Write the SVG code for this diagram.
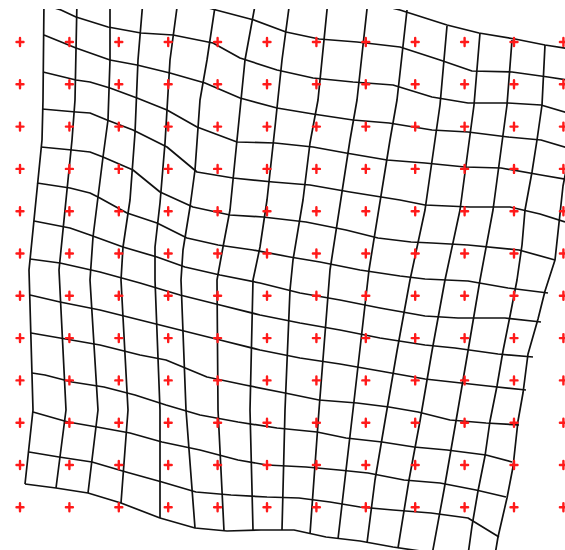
<svg xmlns="http://www.w3.org/2000/svg" xmlns:xlink="http://www.w3.org/1999/xlink" width="565" height="550" viewBox="0 0 565 550">
<style>
.g{fill:none;stroke:#111;stroke-width:1.7;stroke-linejoin:round}
.m{fill:none;stroke:#ff1a1a;stroke-width:2.4;stroke-linecap:round}
</style>
<defs>
<clipPath id="clip"><rect x="0" y="9" width="565" height="541"/></clipPath>
<path id="mk" d="M-3.5,0H3.5M0,-4V4"/>
</defs>
<rect width="565" height="550" fill="#fff"/>
<g id="connectors" clip-path="url(#clip)">
<g id="rows">
<polyline class="g" points="360,0 400,10 447,25 479,33 515,39 545,45 590,52"/>
<polyline class="g" points="180,0 216,10 254,20 286,32 319,39 357,42 400,47 440,60 472,71 512,72 548,77 580,82"/>
<polyline class="g" points="30,0 61,10 76,17 108,27 141,33 173,35 213,43 240,58 277,70 313,78 353,82 393,85 432,97 468,103 508,103 541,105 575,115"/>
<polyline class="g" points="44,35 76,48 110,60 137,65 170,73 205,83 240,98 277,108 313,114 353,120 389,123 432,130 468,132 508,137 541,140 575,150"/>
<polyline class="g" points="43,72 76,80 90,82 110,88 137,98 167,110 197,127 237,142 275,143 313,147 346,153 387,160 425,163 465,167 501,168 541,175 570,180"/>
<polyline class="g" points="42,109 76,112 90,113 107,120 133,130 167,147 197,172 233,178 273,182 310,185 350,192 400,200 425,205 470,207 510,207 540,214 565,222"/>
<polyline class="g" points="41,147 72,150 90,152 103,157 133,170 160,192 193,207 230,215 263,217 306,222 346,230 378,238 411,242 432,243 468,245 519,250 555,260"/>
<polyline class="g" points="37,183 70,188 90,193 98,197 127,213 157,223 187,238 218,245 253,250 290,257 320,262 360,270 400,276 425,279 468,281 508,288 548,293"/>
<polyline class="g" points="34,221 70,228 90,235 123,247 157,257 185,267 220,275 260,283 300,293 340,300 380,308 425,316 458,318 505,318 541,322"/>
<polyline class="g" points="30,259 60,263 100,272 140,283 180,295 220,305 260,315 300,323 340,330 380,338 425,345 455,348 498,354 533,357"/>
<polyline class="g" points="30,295 60,302 100,310 140,320 180,330 220,340 260,350 300,358 340,364 380,371 425,379 488,386 526,390"/>
<polyline class="g" points="31,333 60,338 100,345 140,355 166,360 207,377 245,385 285,393 319,400 357,403 389,407 418,412 450,420 486,423 519,425"/>
<polyline class="g" points="32,373 45,375 72,382 104,387 135,395 166,405 200,415 238,422 277,428 317,432 346,438 382,442 414,447 447,450 486,455 512,462"/>
<polyline class="g" points="33,412 68,422 97,427 130,433 162,442 200,450 238,460 267,465 306,467 339,470 368,473 404,480 440,483 476,490 506,497"/>
<polyline class="g" points="29,452 59,457 92,462 126,472 162,482 196,492 231,495 267,497 299,498 330,502 360,507 393,510 431,513 468,518 499,537"/>
<polyline class="g" points="25,484 56,488 88,493 121,503 160,518 195,528 227,531 261,530 294,530 326,537 360,541 393,547 427,552"/>
</g>
<g id="cols">
<polyline class="g" points="44,0 43,100 42,140 29,270 33,410 25,484"/>
<polyline class="g" points="77,0 75,100 72,140 59,270 66,410 56,488"/>
<polyline class="g" points="110,0 110,60 108,120 103,157 98,197 93,237 90,280 98,410 88,493"/>
<polyline class="g" points="143,0 138,60 135,133 130,200 123,247 121,280 128,410 121,503"/>
<polyline class="g" points="178,0 170,60 165,143 160,203 155,247 155,280 160,410 160,518"/>
<polyline class="g" points="216,0 207,60 200,100 195,170 190,207 183,250 181,280 186,410 195,528"/>
<polyline class="g" points="256,0 245,60 237,140 230,210 223,247 217,280 218,410 224,531"/>
<polyline class="g" points="290,0 282,60 275,127 267,200 260,247 253,280 250,410 253,530"/>
<polyline class="g" points="328,0 318,100 310,143 303,200 293,260 290,290 285,410 282,530"/>
<polyline class="g" points="368,0 357,100 350,140 330,270 319,410 310,534"/>
<polyline class="g" points="407,10 397,100 390,140 369,270 353,410 338,539"/>
<polyline class="g" points="447,26 440,105 425,210 410,280 397,351 385,421 375,480 367,543"/>
<polyline class="g" points="480,33 474,105 460,210 445,280 432,351 420,421 409,480 398,548"/>
<polyline class="g" points="512,40 507,105 493,210 480,280 468,351 456,421 444,490 432,555"/>
<polyline class="g" points="545,45 542,105 537,140 532,172 525,210 522,245 517,280 510,316 503,351 497,386 490,421 485,456 478,491 472,526 468,555"/>
<polyline class="g" points="590,52 572,140 563,186 555,260 545,291 538,319 528,354 523,393 518,421 513,467 507,498 498,537 495,555"/>
</g>
</g>
<g id="markers" class="m">
<use href="#mk" x="20" y="42"/><use href="#mk" x="69.4" y="42"/><use href="#mk" x="118.8" y="42"/><use href="#mk" x="168.2" y="42"/><use href="#mk" x="217.6" y="42"/><use href="#mk" x="267" y="42"/><use href="#mk" x="316.4" y="42"/><use href="#mk" x="365.8" y="42"/><use href="#mk" x="415.2" y="42"/><use href="#mk" x="464.6" y="42"/><use href="#mk" x="514" y="42"/><use href="#mk" x="563.4" y="42"/>
<use href="#mk" x="20" y="84.3"/><use href="#mk" x="69.4" y="84.3"/><use href="#mk" x="118.8" y="84.3"/><use href="#mk" x="168.2" y="84.3"/><use href="#mk" x="217.6" y="84.3"/><use href="#mk" x="267" y="84.3"/><use href="#mk" x="316.4" y="84.3"/><use href="#mk" x="365.8" y="84.3"/><use href="#mk" x="415.2" y="84.3"/><use href="#mk" x="464.6" y="84.3"/><use href="#mk" x="514" y="84.3"/><use href="#mk" x="563.4" y="84.3"/>
<use href="#mk" x="20" y="126.6"/><use href="#mk" x="69.4" y="126.6"/><use href="#mk" x="118.8" y="126.6"/><use href="#mk" x="168.2" y="126.6"/><use href="#mk" x="217.6" y="126.6"/><use href="#mk" x="267" y="126.6"/><use href="#mk" x="316.4" y="126.6"/><use href="#mk" x="365.8" y="126.6"/><use href="#mk" x="415.2" y="126.6"/><use href="#mk" x="464.6" y="126.6"/><use href="#mk" x="514" y="126.6"/><use href="#mk" x="563.4" y="126.6"/>
<use href="#mk" x="20" y="168.9"/><use href="#mk" x="69.4" y="168.9"/><use href="#mk" x="118.8" y="168.9"/><use href="#mk" x="168.2" y="168.9"/><use href="#mk" x="217.6" y="168.9"/><use href="#mk" x="267" y="168.9"/><use href="#mk" x="316.4" y="168.9"/><use href="#mk" x="365.8" y="168.9"/><use href="#mk" x="415.2" y="168.9"/><use href="#mk" x="464.6" y="168.9"/><use href="#mk" x="514" y="168.9"/><use href="#mk" x="563.4" y="168.9"/>
<use href="#mk" x="20" y="211.2"/><use href="#mk" x="69.4" y="211.2"/><use href="#mk" x="118.8" y="211.2"/><use href="#mk" x="168.2" y="211.2"/><use href="#mk" x="217.6" y="211.2"/><use href="#mk" x="267" y="211.2"/><use href="#mk" x="316.4" y="211.2"/><use href="#mk" x="365.8" y="211.2"/><use href="#mk" x="415.2" y="211.2"/><use href="#mk" x="464.6" y="211.2"/><use href="#mk" x="514" y="211.2"/><use href="#mk" x="563.4" y="211.2"/>
<use href="#mk" x="20" y="253.5"/><use href="#mk" x="69.4" y="253.5"/><use href="#mk" x="118.8" y="253.5"/><use href="#mk" x="168.2" y="253.5"/><use href="#mk" x="217.6" y="253.5"/><use href="#mk" x="267" y="253.5"/><use href="#mk" x="316.4" y="253.5"/><use href="#mk" x="365.8" y="253.5"/><use href="#mk" x="415.2" y="253.5"/><use href="#mk" x="464.6" y="253.5"/><use href="#mk" x="514" y="253.5"/><use href="#mk" x="563.4" y="253.5"/>
<use href="#mk" x="20" y="295.8"/><use href="#mk" x="69.4" y="295.8"/><use href="#mk" x="118.8" y="295.8"/><use href="#mk" x="168.2" y="295.8"/><use href="#mk" x="217.6" y="295.8"/><use href="#mk" x="267" y="295.8"/><use href="#mk" x="316.4" y="295.8"/><use href="#mk" x="365.8" y="295.8"/><use href="#mk" x="415.2" y="295.8"/><use href="#mk" x="464.6" y="295.8"/><use href="#mk" x="514" y="295.8"/><use href="#mk" x="563.4" y="295.8"/>
<use href="#mk" x="20" y="338.1"/><use href="#mk" x="69.4" y="338.1"/><use href="#mk" x="118.8" y="338.1"/><use href="#mk" x="168.2" y="338.1"/><use href="#mk" x="217.6" y="338.1"/><use href="#mk" x="267" y="338.1"/><use href="#mk" x="316.4" y="338.1"/><use href="#mk" x="365.8" y="338.1"/><use href="#mk" x="415.2" y="338.1"/><use href="#mk" x="464.6" y="338.1"/><use href="#mk" x="514" y="338.1"/><use href="#mk" x="563.4" y="338.1"/>
<use href="#mk" x="20" y="380.4"/><use href="#mk" x="69.4" y="380.4"/><use href="#mk" x="118.8" y="380.4"/><use href="#mk" x="168.2" y="380.4"/><use href="#mk" x="217.6" y="380.4"/><use href="#mk" x="267" y="380.4"/><use href="#mk" x="316.4" y="380.4"/><use href="#mk" x="365.8" y="380.4"/><use href="#mk" x="415.2" y="380.4"/><use href="#mk" x="464.6" y="380.4"/><use href="#mk" x="514" y="380.4"/><use href="#mk" x="563.4" y="380.4"/>
<use href="#mk" x="20" y="422.7"/><use href="#mk" x="69.4" y="422.7"/><use href="#mk" x="118.8" y="422.7"/><use href="#mk" x="168.2" y="422.7"/><use href="#mk" x="217.6" y="422.7"/><use href="#mk" x="267" y="422.7"/><use href="#mk" x="316.4" y="422.7"/><use href="#mk" x="365.8" y="422.7"/><use href="#mk" x="415.2" y="422.7"/><use href="#mk" x="464.6" y="422.7"/><use href="#mk" x="514" y="422.7"/><use href="#mk" x="563.4" y="422.7"/>
<use href="#mk" x="20" y="465"/><use href="#mk" x="69.4" y="465"/><use href="#mk" x="118.8" y="465"/><use href="#mk" x="168.2" y="465"/><use href="#mk" x="217.6" y="465"/><use href="#mk" x="267" y="465"/><use href="#mk" x="316.4" y="465"/><use href="#mk" x="365.8" y="465"/><use href="#mk" x="415.2" y="465"/><use href="#mk" x="464.6" y="465"/><use href="#mk" x="514" y="465"/><use href="#mk" x="563.4" y="465"/>
<use href="#mk" x="20" y="507.3"/><use href="#mk" x="69.4" y="507.3"/><use href="#mk" x="118.8" y="507.3"/><use href="#mk" x="168.2" y="507.3"/><use href="#mk" x="217.6" y="507.3"/><use href="#mk" x="267" y="507.3"/><use href="#mk" x="316.4" y="507.3"/><use href="#mk" x="365.8" y="507.3"/><use href="#mk" x="415.2" y="507.3"/><use href="#mk" x="464.6" y="507.3"/><use href="#mk" x="514" y="507.3"/><use href="#mk" x="563.4" y="507.3"/>
</g>
</svg>
